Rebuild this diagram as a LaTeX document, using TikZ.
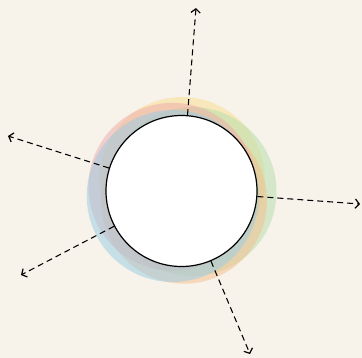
\documentclass[tikz,border=0pt]{standalone}
\usetikzlibrary{calc,arrows.meta}
\definecolor{bg}{RGB}{247,242,234}
\definecolor{cyel}{RGB}{250,222,140}
\definecolor{cgrn}{RGB}{180,222,170}
\definecolor{corg}{RGB}{246,190,140}
\definecolor{cblu}{RGB}{150,205,230}
\definecolor{cred}{RGB}{240,170,170}
\tikzset{
  blob/.style={opacity=0.5},
  hub/.style={circle, draw=black, fill=white, line width=0.9pt, inner sep=0pt, minimum size=113.25pt},
  ray/.style={-{Straight Barb[length=3pt,width=7pt,line width=0.9pt]}, dash pattern=on 4.5pt off 3pt, line width=0.8pt, black}
}
\begin{document}
\begin{tikzpicture}[x=0.75pt,y=-0.75pt]
\fill[bg] (0,0) rectangle (362,358);
\useasboundingbox (0,0) rectangle (362,358);
\fill[cyel,blob] (182,180) circle (83);
\fill[cgrn,blob] (192,191.5) circle (84.5);
\fill[corg,blob] (184,200.7) circle (83);
\fill[cred,blob] (172.4,186.8) circle (84);
\fill[cblu,blob] (172.8,196) circle (86);
\node[hub] (c) at (181.5,191) {};
\coordinate (e1) at (196,8);
\coordinate (e2) at (360,204);
\coordinate (e3) at (250,354);
\coordinate (e4) at (21,275);
\coordinate (e5) at (8,136);
\foreach \e in {e1,e2,e3,e4,e5} \draw[ray] (c) -- (\e);
\end{tikzpicture}
\end{document}
